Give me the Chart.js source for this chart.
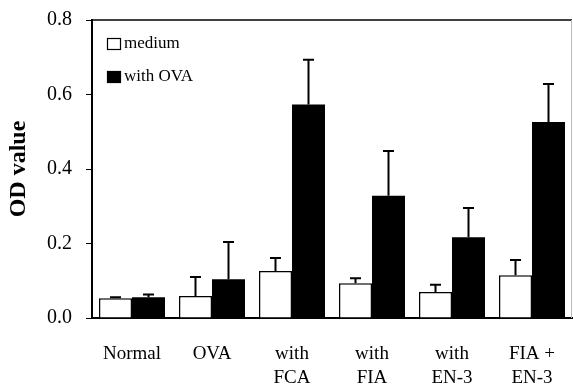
<!DOCTYPE html>
<html>
<head>
<meta charset="utf-8">
<script src="https://cdn.jsdelivr.net/npm/chart.js@4"></script>
<style>
    html, body { margin: 0; padding: 0; background: #fff; }
    #wrap { width: 573px; height: 385px; }
</style>
</head>
<body>
<div id="wrap"><canvas id="odChart" width="573" height="385"></canvas></div>
<script>
// Groups on the x axis (multi-line labels)
const categories = [
    'Normal',
    'OVA',
    ['with', 'FCA'],
    ['with', 'FIA'],
    ['with', 'EN-3'],
    ['FIA +', 'EN-3']
];

// OD values
const mediumValues = [0.053, 0.059, 0.126, 0.093, 0.070, 0.115];
const ovaValues = [0.056, 0.104, 0.573, 0.328, 0.217, 0.526];

// upper error bars (SD)
const mediumErrors = [0.003, 0.051, 0.035, 0.014, 0.019, 0.041];
const ovaErrors = [0.007, 0.100, 0.120, 0.120, 0.078, 0.102];

const yTicks = [0, 0.2, 0.4, 0.6, 0.8];

const seriesNames = ['medium', 'with OVA'];

const serif = '"Liberation Serif", "DejaVu Serif", serif';

// Error bars, frame and legend drawn on top of the bars
const extrasPlugin = {
    id: 'extras',
    afterDatasetsDraw(chart) {
        const ctx = chart.ctx;
        const y = chart.scales.y;
        const errs = [mediumErrors, ovaErrors];
        ctx.save();
        ctx.strokeStyle = '#000';
        ctx.lineWidth = 2;
        chart.data.datasets.forEach((ds, i) => {
            const meta = chart.getDatasetMeta(i);
            meta.data.forEach((bar, j) => {
                const top = y.getPixelForValue(ds.data[j] + errs[i][j]);
                ctx.beginPath();
                ctx.moveTo(bar.x, bar.y);
                ctx.lineTo(bar.x, top);
                ctx.moveTo(bar.x - 5.5, top);
                ctx.lineTo(bar.x + 5.5, top);
                ctx.stroke();
            });
        });
        ctx.restore();
    },
    afterDraw(chart) {
        const ctx = chart.ctx;
        const area = chart.chartArea;
        ctx.save();
        // top frame line
        ctx.strokeStyle = '#000';
        ctx.lineWidth = 1.5;
        ctx.beginPath();
        ctx.moveTo(area.left, area.top);
        ctx.lineTo(area.right, area.top);
        ctx.stroke();
        // faint right edge
        ctx.strokeStyle = '#bbb';
        ctx.lineWidth = 1;
        ctx.beginPath();
        ctx.moveTo(area.right - 0.5, area.top);
        ctx.lineTo(area.right - 0.5, area.bottom);
        ctx.stroke();

        // legend
        ctx.font = '17px ' + serif;
        ctx.textBaseline = 'middle';
        ctx.textAlign = 'left';
        const fills = ['#fff', '#000'];
        seriesNames.forEach((name, i) => {
            const by = 38 + i * 33;
            ctx.fillStyle = fills[i];
            ctx.fillRect(107, by, 14, 12);
            ctx.strokeStyle = '#000';
            ctx.lineWidth = 1.2;
            ctx.strokeRect(107.5, by + 0.5, 13, 11);
            ctx.fillStyle = '#000';
            ctx.fillText(name, 124, by + 6);
        });
        ctx.restore();
    }
};

document.addEventListener('DOMContentLoaded', () => {
    const ctx = document.getElementById('odChart').getContext('2d');
    new Chart(ctx, {
        type: 'bar',
        data: {
            labels: categories,
            datasets: [
                {
                    label: seriesNames[0],
                    data: mediumValues,
                    backgroundColor: '#fff',
                    borderColor: '#000',
                    borderWidth: 1.5,
                    borderSkipped: 'bottom'
                },
                {
                    label: seriesNames[1],
                    data: ovaValues,
                    backgroundColor: '#000',
                    borderColor: '#000',
                    borderWidth: 0
                }
            ]
        },
        options: {
            responsive: false,
            animation: false,
            devicePixelRatio: 1,
            layout: { padding: { top: 20, right: 1, left: 0, bottom: 0 } },
            plugins: {
                legend: { display: false },
                tooltip: { enabled: false }
            },
            datasets: {
                bar: { categoryPercentage: 0.825, barPercentage: 1 }
            },
            scales: {
                x: {
                    afterFit(scale) {
                        scale.height = 67;
                        scale.paddingLeft = 0;
                        scale.paddingRight = 0;
                    },
                    grid: { display: false },
                    border: { display: true, color: '#000', width: 2 },
                    ticks: {
                        color: '#000',
                        padding: 16,
                        maxRotation: 0,
                        autoSkip: false,
                        font: { family: serif, size: 19, lineHeight: 1.25 }
                    }
                },
                y: {
                    min: 0,
                    max: 0.8,
                    afterFit(scale) {
                        scale.width = 92;
                        scale.paddingTop = 0;
                        scale.paddingBottom = 0;
                    },
                    afterBuildTicks(scale) {
                        scale.ticks = yTicks.map(v => ({ value: v }));
                    },
                    grid: {
                        drawOnChartArea: false,
                        drawTicks: true,
                        tickLength: 6,
                        color: '#000'
                    },
                    border: { display: true, color: '#000', width: 2 },
                    ticks: {
                        color: '#000',
                        padding: 14,
                        font: { family: serif, size: 20 },
                        callback: v => v.toFixed(1)
                    },
                    title: {
                        display: true,
                        text: 'OD value',
                        color: '#000',
                        padding: { top: 4, bottom: 0 },
                        font: { family: serif, size: 24, weight: 'bold' }
                    }
                }
            }
        },
        plugins: [extrasPlugin]
    });
});
</script>
</body>
</html>
